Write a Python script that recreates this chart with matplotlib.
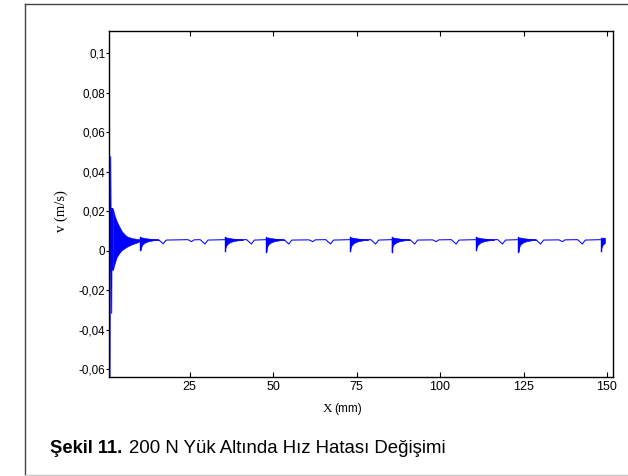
import matplotlib
matplotlib.use('Agg')
import matplotlib.pyplot as plt
from matplotlib.lines import Line2D
import numpy as np

W, H = 628, 476

# start-up transient: first big spikes (X in mm, v in m/s)
start_x = [0.95, 1.16, 1.38, 1.67, 1.80, 2.00]
start_y = [0.0040, -0.0635, 0.0477, -0.0316, 0.0216, -0.0096]

# envelope of the dense decaying oscillation after the spikes
env_x = [2.0, 2.6, 3.2, 4.0, 4.7, 5.5, 6.2, 7.7, 9.2, 10.2]
env_hi = [0.0216, 0.0178, 0.0150, 0.0122, 0.0100, 0.0085, 0.0074, 0.0065, 0.0061, 0.0058]
env_lo = [-0.0098, -0.0062, -0.0031, -0.0010, 0.0004, 0.0013, 0.0021, 0.0033, 0.0042, 0.0050]

# steady part of the error with its periodic dips
trace_x = [10.2, 15.7, 17.1, 18.0, 24.5, 25.6, 26.3, 28.2, 29.6, 30.5,
           35.6, 42.1, 43.5, 44.4, 48.0, 53.3, 54.7, 55.6, 60.8, 61.9,
           62.6, 65.8, 67.2, 68.1, 73.1, 79.3, 80.7, 81.6, 85.5, 91.0,
           92.4, 93.3, 97.8, 98.9, 99.6, 103.4, 104.8, 105.7, 110.8, 117.3,
           118.7, 119.6, 123.5, 128.7, 130.1, 131.0, 135.6, 136.7, 137.4, 141.2,
           142.6, 143.5, 148.0]
trace_y = [0.0055, 0.0057, 0.0036, 0.0055, 0.0057, 0.0047, 0.0056, 0.0057, 0.0035, 0.0055,
           0.0057, 0.0057, 0.0035, 0.0055, 0.0057, 0.0057, 0.0035, 0.0055, 0.0056, 0.0047,
           0.0056, 0.0057, 0.0035, 0.0055, 0.0057, 0.0057, 0.0035, 0.0055, 0.0057, 0.0057,
           0.0035, 0.0055, 0.0056, 0.0047, 0.0056, 0.0057, 0.0035, 0.0055, 0.0057, 0.0057,
           0.0035, 0.0055, 0.0057, 0.0057, 0.0035, 0.0055, 0.0056, 0.0047, 0.0056, 0.0057,
           0.0035, 0.0055, 0.0057]

# oscillation bursts: start position, lowest and highest value
burst_x = [10.3, 35.6, 48.0, 73.1, 85.5, 110.8, 123.5, 148.2]
burst_lo = [0.0005, 0.0002, -0.0003, 0.0000, -0.0003, 0.0005, -0.0003, 0.0002]
burst_hi = [0.0069, 0.0069, 0.0068, 0.0069, 0.0068, 0.0069, 0.0068, 0.0064]
# typical burst shape read from one burst (offset mm, lower, upper)
burst_dx = [0.0, 0.15, 0.5, 1.2, 2.2, 3.6, 5.4]
burst_lower = [None, 0.0016, 0.0030, 0.0041, 0.0048, 0.0053, 0.0056]
burst_upper = [None, None, 0.0068, 0.0066, 0.0063, 0.0060, 0.0057]
x_end = 150.1

xticks = [25, 50, 75, 100, 125, 150]
yticks = [-0.06, -0.04, -0.02, 0, 0.02, 0.04, 0.06, 0.08, 0.1]
ytick_labels = ['-0,06', '-0,04', '-0,02', '0', '0,02', '0,04', '0,06', '0,08', '0,1']

blue = '#0000ff'
sans = 'Liberation Sans'
serif = 'Liberation Serif'

fig = plt.figure(figsize=(W / 100, H / 100), dpi=100)
ax = fig.add_axes([109 / W, 1 - 377 / H, (613 - 109) / W, (377 - 31) / H])

ax.plot(start_x, start_y, color=blue, lw=0.7)
ax.fill_between(env_x, env_lo, env_hi, color=blue, lw=0.4)
ax.plot(trace_x, trace_y, color=blue, lw=0.75)

for x0, lo, hi in zip(burst_x, burst_lo, burst_hi):
    bx = np.array(burst_dx) + x0
    blo = [lo] + burst_lower[1:]
    bhi = [hi, hi] + burst_upper[2:]
    keep = bx <= x_end
    ax.fill_between(bx[keep], np.array(blo)[keep], np.array(bhi)[keep],
                    color=blue, lw=0.4)
    ax.plot([x0, x0], [lo, hi], color=blue, lw=1.0)

ax.set_xlim(0.87, 151.8)
ax.set_ylim(-0.0638, 0.1113)

ax.set_xticks(xticks)
ax.set_xticklabels([str(t) for t in xticks], fontfamily=sans, fontsize=9)
ax.set_yticks(yticks)
ax.set_yticklabels(ytick_labels, fontfamily=sans, fontsize=8.4)
ax.tick_params(axis='x', direction='in', length=3.6, width=0.8, top=True, pad=3.2)
ax.tick_params(axis='y', direction='out', length=2.2, width=0.8, pad=0.5)
for s in ax.spines.values():
    s.set_linewidth(1.0)

# axis labels
fig.text(61.7 / W, 1 - 211.5 / H, 'v (m/s)', rotation=90, ha='center', va='center',
         fontfamily=serif, fontsize=10.5)
fig.text(332 / W, 1 - 409 / H, 'X', ha='right', va='center', fontfamily=serif, fontsize=9.5)
fig.text(334 / W, 1 - 409 / H, '(mm)', ha='left', va='center', fontfamily=sans, fontsize=8.5)

# caption
fig.text(50 / W, 1 - 453 / H, 'Şekil 11.', ha='left', va='baseline',
         fontfamily=sans, fontweight='bold', fontsize=13.2)
fig.text(129.3 / W, 1 - 453 / H, '200 N Yük Altında Hız Hatası Değişimi', ha='left',
         va='baseline', fontfamily=sans, fontsize=13.4)

# outer frame of the figure box
fig.add_artist(Line2D([25 / W, 25 / W], [1 - 475 / H, 1 - 4 / H], color='#444444', lw=1.0))
fig.add_artist(Line2D([25 / W, 1.0], [1 - 4 / H, 1 - 4 / H], color='#444444', lw=1.0))
fig.add_artist(Line2D([25 / W, 1.0], [1 - 475 / H, 1 - 475 / H], color='#c8c8c8', lw=1.0))

fig.savefig('out.png', dpi=100)
